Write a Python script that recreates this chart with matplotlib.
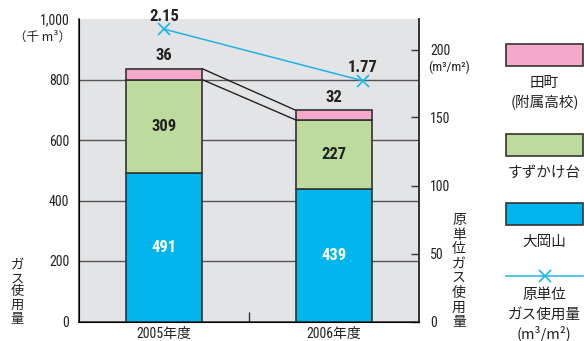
import matplotlib.pyplot as plt
import numpy as np
from matplotlib import font_manager
from matplotlib.patches import Rectangle
from matplotlib.lines import Line2D

# ガス使用量 (千m3) by campus, and 原単位 (m3/m2)
years = ['2005年度', '2006年度']
ookayama = [491, 439]
suzukakedai = [309, 227]
tamachi = [36, 32]
intensity = [2.15, 1.77]

left_ticks = [0, 200, 400, 600, 800, 1000]
left_labels = ['0', '200', '400', '600', '800', '1,000']
right_ticks = [0, 50, 100, 150, 200]

col_blue = '#00b5ec'
col_green = '#bcdb9c'
col_pink = '#f5a9c9'
col_line = '#1cb4e6'
edge = '#333333'

# narrow face for numbers if one is around
installed = {f.name for f in font_manager.fontManager.ttflist}
narrow = next((n for n in ['Liberation Sans Narrow', 'DejaVu Sans Condensed',
                           'Roboto Condensed', 'Liberation Sans'] if n in installed), 'DejaVu Sans')
NUM = [narrow, 'Noto Sans CJK JP']
JP = ['Noto Sans CJK JP', 'DejaVu Sans']

W, H = 584, 341


def fx(px):
    return px / W


def fy(py):
    return 1 - py / H


fig = plt.figure(figsize=(W / 100, H / 100), dpi=100)
ax = fig.add_axes([fx(79), fy(321.5), 340 / W, 302.5 / H])
ax.set_facecolor('#e3e4e6')

x = np.arange(len(years))
bw = 0.447
b1 = np.array(ookayama)
b2 = b1 + np.array(suzukakedai)
b3 = b2 + np.array(tamachi)

ax.hlines(left_ticks[1:-1], -0.5, 1.5, color='#555555', lw=1, zorder=1)
ax.bar(x, ookayama, bw, color=col_blue, edgecolor=edge, lw=1.2, zorder=3)
ax.bar(x, suzukakedai, bw, bottom=b1, color=col_green, edgecolor=edge, lw=1.2, zorder=3)
ax.bar(x, tamachi, bw, bottom=b2, color=col_pink, edgecolor=edge, lw=1.2, zorder=3)

# 前年度との比較線
for tops in (b2, b3):
    ax.plot([x[0] + bw / 2, x[1] - bw / 2], [tops[0], tops[1]], color='#222222', lw=1, zorder=2)

for i in range(len(years)):
    ax.text(x[i], ookayama[i] / 2, str(ookayama[i]), ha='center', va='center',
            color='white', fontsize=12, fontweight='bold', family=NUM, zorder=4)
    ax.text(x[i], b1[i] + suzukakedai[i] / 2, str(suzukakedai[i]), ha='center', va='center',
            color='#222222', fontsize=12, fontweight='bold', family=NUM, zorder=4)
    ax.annotate(str(tamachi[i]), (x[i], b3[i]), xytext=(0, 4), textcoords='offset points',
                ha='center', va='bottom', color='#222222', fontsize=12,
                fontweight='bold', family=NUM, zorder=4)

ax.set_xlim(-0.5, 1.5)
ax.set_ylim(0, 1000)
ax.set_yticks(left_ticks, left_labels)
ax.set_xticks(x, years)
ax.set_xticks([0.5], minor=True)
ax.tick_params(axis='y', length=0, pad=7, labelsize=10, labelcolor='#222222')
ax.tick_params(axis='x', which='major', length=0, pad=4, labelsize=10, labelcolor='#222222')
ax.tick_params(axis='x', which='minor', direction='in', length=7, width=1, color=edge)
for lab in ax.get_yticklabels() + ax.get_xticklabels():
    lab.set_family(NUM)
ax.spines['top'].set_visible(False)
for s in ('left', 'right', 'bottom'):
    ax.spines[s].set_color(edge)
    ax.spines[s].set_linewidth(1.2)

# 原単位 on the right axis
ax2 = ax.twinx()
ax2.set_ylim(0, 302.5 / 1.36)
ax2.set_yticks(right_ticks)
ax2.tick_params(axis='y', direction='in', length=6, width=1, color=edge, pad=8,
                labelsize=10, labelcolor='#222222')
for lab in ax2.get_yticklabels():
    lab.set_family(NUM)
ax2.spines['top'].set_visible(False)
ax2.spines['right'].set_color(edge)
ax2.spines['right'].set_linewidth(1.2)

line_shift = np.array([0.0, 0.17])
vals = np.array(intensity) * 100
ax2.plot(x + line_shift, vals, color=col_line, lw=1.1, marker='x', ms=8, mew=1.2, zorder=5)
for xi, v, lab in zip(x + line_shift, vals, intensity):
    ax2.annotate(f'{lab:.2f}', (xi, v), xytext=(0, 4), textcoords='offset points',
                 ha='center', va='bottom', color='#222222', fontsize=12,
                 fontweight='bold', family=NUM)

# units and axis titles
fig.text(fx(71), fy(37), '（千 m³）', ha='right', va='center', fontsize=9, family=JP, color='#222222')
fig.text(fx(428), fy(67), '(m³/m²)', ha='left', va='center', fontsize=9.5, family=NUM, color='#222222')
fig.text(fx(17), fy(292), '\n'.join('ガス使用量'), ha='center', va='center',
         fontsize=9.5, family=JP, linespacing=1.05, color='#222222')
fig.text(fx(459), fy(271), '\n'.join('原単位ガス使用量'), ha='center', va='center',
         fontsize=10, family=JP, linespacing=1.05, color='#222222')

# legend
lx0, lx1 = 506, 583
lcx = (lx0 + lx1) / 2
boxes = [(col_pink, 44, ['田町', '(附属高校)']),
         (col_green, 134, ['すずかけ台']),
         (col_blue, 203, ['大岡山'])]
for col, top, lines in boxes:
    fig.add_artist(Rectangle((fx(lx0), fy(top + 22)), (lx1 - lx0) / W, 22 / H,
                             transform=fig.transFigure, facecolor=col, edgecolor=edge, lw=1.2))
    for k, t in enumerate(lines):
        fig.text(fx(lcx), fy(top + 39 + 20 * k), t, ha='center', va='center',
                 fontsize=10.5, family=JP, color='#222222')

fig.add_artist(Line2D([fx(lx0), fx(lx1)], [fy(276), fy(276)], transform=fig.transFigure,
                      color=col_line, lw=1.1))
fig.add_artist(Line2D([fx(lcx)], [fy(276)], transform=fig.transFigure, color=col_line,
                      marker='x', ms=8, mew=1.2))
for k, t in enumerate(['原単位', 'ガス使用量', '(m³/m²)']):
    fig.text(fx(lcx), fy(295 + 19.5 * k), t, ha='center', va='center',
             fontsize=10.5, family=JP, color='#222222')

fig.savefig('out.png', dpi=100, facecolor='white')
